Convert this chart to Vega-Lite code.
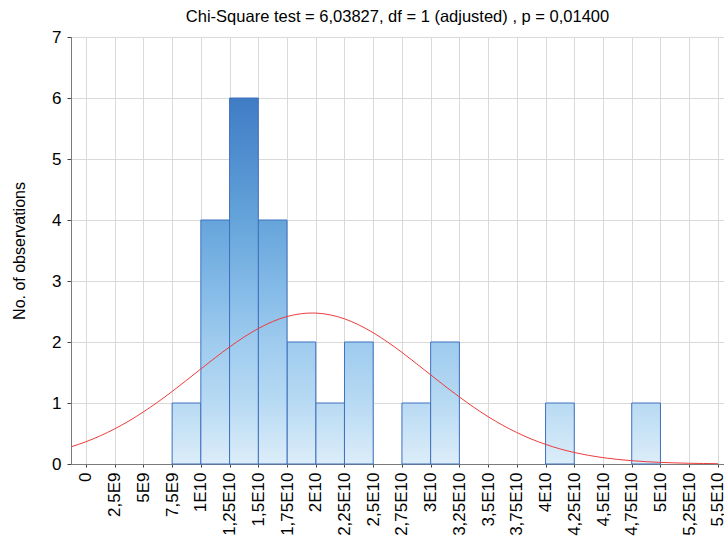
{
  "$schema": "https://vega.github.io/schema/vega-lite/v6.json",
  "width": 653,
  "height": 427,
  "autosize": "none",
  "padding": {"left": 71, "top": 37, "right": 0, "bottom": 77},
  "background": "white",
  "config": {
    "view": {"stroke": "#7a7a7a", "strokeWidth": 1},
    "font": "Liberation Sans"
  },
  "title": {
    "text": "Chi-Square test = 6,03827, df = 1 (adjusted) , p = 0,01400",
    "font": "Liberation Sans",
    "fontSize": 16.5,
    "fontWeight": "normal",
    "color": "#000000",
    "anchor": "middle",
    "offset": 3
  },
  "datasets": {
    "bins": [
      {"start": 7.5e9, "end": 1e10, "count": 1},
      {"start": 1e10, "end": 1.25e10, "count": 4},
      {"start": 1.25e10, "end": 1.5e10, "count": 6},
      {"start": 1.5e10, "end": 1.75e10, "count": 4},
      {"start": 1.75e10, "end": 2e10, "count": 2},
      {"start": 2e10, "end": 2.25e10, "count": 1},
      {"start": 2.25e10, "end": 2.5e10, "count": 2},
      {"start": 2.75e10, "end": 3e10, "count": 1},
      {"start": 3e10, "end": 3.25e10, "count": 2},
      {"start": 4e10, "end": 4.25e10, "count": 1},
      {"start": 4.75e10, "end": 5e10, "count": 1}
    ],
    "curve": [
      {"x": -1.25e9, "y": 0.284},
      {"x": 0, "y": 0.365},
      {"x": 1.25e9, "y": 0.462},
      {"x": 2.5e9, "y": 0.576},
      {"x": 3.75e9, "y": 0.706},
      {"x": 5e9, "y": 0.854},
      {"x": 6.25e9, "y": 1.015},
      {"x": 7.5e9, "y": 1.189},
      {"x": 8.75e9, "y": 1.372},
      {"x": 1e10, "y": 1.558},
      {"x": 1.125e10, "y": 1.742},
      {"x": 1.25e10, "y": 1.918},
      {"x": 1.375e10, "y": 2.08},
      {"x": 1.5e10, "y": 2.221},
      {"x": 1.625e10, "y": 2.335},
      {"x": 1.75e10, "y": 2.418},
      {"x": 1.875e10, "y": 2.464},
      {"x": 1.968e10, "y": 2.475},
      {"x": 2e10, "y": 2.474},
      {"x": 2.125e10, "y": 2.445},
      {"x": 2.25e10, "y": 2.38},
      {"x": 2.375e10, "y": 2.28},
      {"x": 2.5e10, "y": 2.152},
      {"x": 2.625e10, "y": 2.0},
      {"x": 2.75e10, "y": 1.83},
      {"x": 2.875e10, "y": 1.648},
      {"x": 3e10, "y": 1.462},
      {"x": 3.125e10, "y": 1.277},
      {"x": 3.25e10, "y": 1.099},
      {"x": 3.375e10, "y": 0.931},
      {"x": 3.5e10, "y": 0.776},
      {"x": 3.625e10, "y": 0.637},
      {"x": 3.75e10, "y": 0.516},
      {"x": 3.875e10, "y": 0.41},
      {"x": 4e10, "y": 0.322},
      {"x": 4.125e10, "y": 0.248},
      {"x": 4.25e10, "y": 0.189},
      {"x": 4.375e10, "y": 0.141},
      {"x": 4.5e10, "y": 0.104},
      {"x": 4.625e10, "y": 0.0756},
      {"x": 4.75e10, "y": 0.0541},
      {"x": 4.875e10, "y": 0.038},
      {"x": 5e10, "y": 0.0264},
      {"x": 5.125e10, "y": 0.018},
      {"x": 5.25e10, "y": 0.0121},
      {"x": 5.375e10, "y": 0.008},
      {"x": 5.5e10, "y": 0.0052}
    ]
  },
  "encoding": {
    "x": {
      "type": "quantitative",
      "scale": {"domain": [-1.3e9, 5.553e10], "nice": false, "zero": false},
      "axis": {
        "title": null,
        "values": [0, 2.5e9, 5e9, 7.5e9, 1e10, 1.25e10, 1.5e10, 1.75e10, 2e10, 2.25e10, 2.5e10, 2.75e10, 3e10, 3.25e10, 3.5e10, 3.75e10, 4e10, 4.25e10, 4.5e10, 4.75e10, 5e10, 5.25e10, 5.5e10],
        "labelExpr": "datum.value == 0 ? '0' : (datum.value < 1e10 ? replace(format(datum.value / 1e9, '~g'), '.', ',') + 'E9' : replace(format(datum.value / 1e10, '~g'), '.', ',') + 'E10')",
        "labelAngle": -90,
        "labelFontSize": 17,
        "labelColor": "#000000",
        "labelPadding": 5,
        "labelFlush": false,
        "labelOverlap": false,
        "tickSize": 3,
        "tickColor": "#444444",
        "domainColor": "#7a7a7a",
        "gridColor": "#d9d9d9",
        "gridWidth": 1
      }
    },
    "y": {
      "type": "quantitative",
      "scale": {"domain": [0, 7], "nice": false},
      "axis": {
        "title": "No. of observations",
        "titleFontSize": 16,
        "titleFontWeight": "normal",
        "titleColor": "#000000",
        "titlePadding": 24,
        "values": [0, 1, 2, 3, 4, 5, 6, 7],
        "labelFontSize": 17,
        "labelColor": "#000000",
        "labelPadding": 6,
        "labelFlush": false,
        "tickSize": 4,
        "tickColor": "#444444",
        "domainColor": "#7a7a7a",
        "gridColor": "#d9d9d9",
        "gridWidth": 1
      }
    }
  },
  "layer": [
    {
      "data": {"name": "bins"},
      "transform": [{"filter": "datum.count == 1"}],
      "mark": {
        "type": "bar",
        "stroke": "#3f70bf",
        "strokeWidth": 1,
        "fill": {"gradient": "linear", "x1": 0, "y1": 0, "x2": 0, "y2": 1, "stops": [
          {"offset": 0, "color": "#b8daf3"},
          {"offset": 1, "color": "#dcedf9"}
        ]}
      },
      "encoding": {"x": {"field": "start"}, "x2": {"field": "end"}, "y": {"field": "count"}, "y2": {"datum": 0}}
    },
    {
      "data": {"name": "bins"},
      "transform": [{"filter": "datum.count == 2"}],
      "mark": {
        "type": "bar",
        "stroke": "#3f70bf",
        "strokeWidth": 1,
        "fill": {"gradient": "linear", "x1": 0, "y1": 0, "x2": 0, "y2": 1, "stops": [
          {"offset": 0, "color": "#9ecbee"},
          {"offset": 0.5, "color": "#b8daf3"},
          {"offset": 1, "color": "#dcedf9"}
        ]}
      },
      "encoding": {"x": {"field": "start"}, "x2": {"field": "end"}, "y": {"field": "count"}, "y2": {"datum": 0}}
    },
    {
      "data": {"name": "bins"},
      "transform": [{"filter": "datum.count == 4"}],
      "mark": {
        "type": "bar",
        "stroke": "#3f70bf",
        "strokeWidth": 1,
        "fill": {"gradient": "linear", "x1": 0, "y1": 0, "x2": 0, "y2": 1, "stops": [
          {"offset": 0, "color": "#65a4da"},
          {"offset": 0.25, "color": "#80b8e6"},
          {"offset": 0.5, "color": "#9ecbee"},
          {"offset": 0.75, "color": "#b8daf3"},
          {"offset": 1, "color": "#dcedf9"}
        ]}
      },
      "encoding": {"x": {"field": "start"}, "x2": {"field": "end"}, "y": {"field": "count"}, "y2": {"datum": 0}}
    },
    {
      "data": {"name": "bins"},
      "transform": [{"filter": "datum.count == 6"}],
      "mark": {
        "type": "bar",
        "stroke": "#3f70bf",
        "strokeWidth": 1,
        "fill": {"gradient": "linear", "x1": 0, "y1": 0, "x2": 0, "y2": 1, "stops": [
          {"offset": 0, "color": "#3f7cc4"},
          {"offset": 0.1667, "color": "#528fd0"},
          {"offset": 0.3333, "color": "#65a4da"},
          {"offset": 0.5, "color": "#80b8e6"},
          {"offset": 0.6667, "color": "#9ecbee"},
          {"offset": 0.8333, "color": "#b8daf3"},
          {"offset": 1, "color": "#dcedf9"}
        ]}
      },
      "encoding": {"x": {"field": "start"}, "x2": {"field": "end"}, "y": {"field": "count"}, "y2": {"datum": 0}}
    },
    {
      "data": {"name": "curve"},
      "mark": {"type": "line", "color": "#ee3b3b", "strokeWidth": 1, "interpolate": "monotone", "clip": true},
      "encoding": {"x": {"field": "x"}, "y": {"field": "y"}}
    }
  ]
}
